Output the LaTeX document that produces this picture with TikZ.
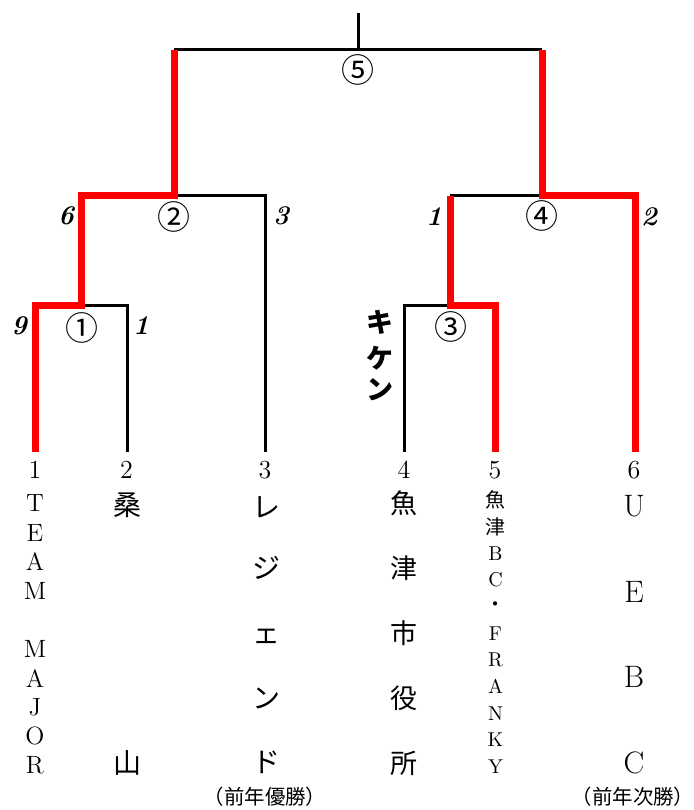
\documentclass[tikz,border=0pt]{standalone}
\usepackage{fontspec}
\newfontfamily\jpfont{Noto Sans CJK JP}

\tikzset{
  lose/.style={line width=1.5pt},
  win/.style={line width=3.5pt, draw=red},
  seed/.style={inner sep=0pt, font=\fontsize{13}{13}\selectfont},
  score/.style={inner sep=0pt, font=\fontsize{13.5}{13.5}\selectfont\bfseries\itshape},
  roundno/.style={inner sep=0pt, font=\fontsize{16.5}{16.5}\selectfont\jpfont},
  kiken/.style={inner sep=0pt, font=\fontsize{13.5}{13.5}\selectfont\jpfont\bfseries},
  latin/.style={inner sep=0pt, font=\fontsize{#1}{#1}\selectfont},
  kanji/.style={inner sep=0pt, font=\fontsize{#1}{#1}\selectfont\jpfont},
  note/.style={inner sep=0pt, font=\fontsize{10.2}{10.2}\selectfont\jpfont}
}

\begin{document}
\begin{tikzpicture}[x=0.5pt,y=-0.5pt]
\useasboundingbox (0,0) rectangle (693,810);
\coordinate (f1) at (35.5,452);
\coordinate (f2) at (127.5,452);
\coordinate (f3) at (265.5,452);
\coordinate (f4) at (404,452);
\coordinate (f5) at (495.5,452);
\coordinate (f6) at (635.5,452);
\coordinate (m1) at (81,305);
\coordinate (m2) at (174,195.5);
\coordinate (m3) at (450,305);
\coordinate (m4) at (542,195.5);
\coordinate (m5) at (358.5,49.5);
\coordinate (top) at (358.5,13);
\draw[lose] (f2) |- (m1);
\draw[lose] (f3) |- (m2);
\draw[lose] (f4) |- (m3);
\draw[lose] (m3 |- m4) -- (m4);
\draw[lose] (m2 |- m5) -- (m4 |- m5);
\draw[lose] (m5) -- (top);
\draw[win] (f1) |- (m1) |- (m2) -- (m2 |- m5);
\draw[win] (f5) |- (m3) -- (m3 |- m4);
\draw[win] (f6) |- (m4) -- (m4 |- m5);
\node[roundno] (r1) at (82,328) {①};
\node[roundno] (r2) at (174,217) {②};
\node[roundno] (r3) at (451,327) {③};
\node[roundno] (r4) at (542,216) {④};
\node[roundno] (r5) at (358,70) {⑤};
\node[score] (s1a) at (19,326) {9};
\node[score] (s1b) at (141,326) {1};
\node[score] (s2a) at (66,216) {6};
\node[score] (s2b) at (281,216) {3};
\node[score] (s4a) at (434,217) {1};
\node[score] (s4b) at (649,217) {2};
\foreach \ch/\yy [count=\k] in {キ/322,ケ/358,ン/390}
  \node[kiken] (kk\k) at (380,\yy) {\ch};
\node[seed] (n1) at (35,470) {1};
\node[seed] (n2) at (126.5,470) {2};
\node[seed] (n3) at (265,470) {3};
\node[seed] (n4) at (404,470) {4};
\node[seed] (n5) at (495,470) {5};
\node[seed] (n6) at (634,470) {6};
\foreach \ch [count=\k] in {T,E,A,M}
  \node[latin=12.5] (one\k) at (35,474.4+29.1*\k) {\ch};
\foreach \ch [count=\k from 6] in {M,A,J,O,R}
  \node[latin=12.5] (one\k) at (35,474.4+29.1*\k) {\ch};
\node[kanji=14] (two1) at (127,505) {桑};
\node[kanji=14] (two2) at (127,763) {山};
\foreach \ch/\yy [count=\k] in {レ/507,ジ/568,ェ/636,ン/698,ド/762}
  \node[kanji=14] (three\k) at (266,\yy) {\ch};
\foreach \ch [count=\k] in {魚,津,市,役,所}
  \node[kanji=13.5] (four\k) at (404,438.5+65*\k) {\ch};
\foreach \ch [count=\k] in {{\jpfont 魚},{\jpfont 津},B,C,{\jpfont ・},F,R,A,N,K,Y}
  \node[latin=10] (five\k) at (495.5,473.35+26.65*\k) {\ch};
\foreach \ch [count=\k] in {U,E,B,C}
  \node[latin=15.5] (six\k) at (634,420.5+85.5*\k) {\ch};
\node[note] (prev1) at (265,797) {（前年優勝）};
\node[note] (prev2) at (633,797) {（前年次勝）};
\end{tikzpicture}
\end{document}
